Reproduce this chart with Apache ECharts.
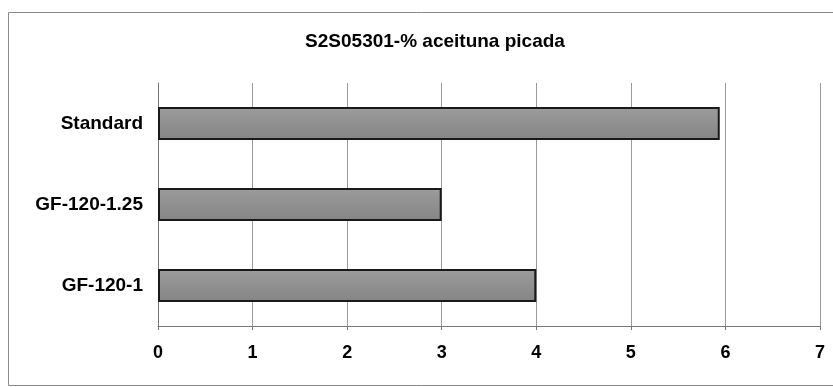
<!DOCTYPE html>
<html>
<head>
<meta charset="utf-8">
<script src="https://cdn.jsdelivr.net/npm/echarts@6/dist/echarts.min.js"></script>
<style>
html,body{margin:0;padding:0;background:#fff;}
#chart{width:833px;height:387px;}
</style>
</head>
<body>
<div id="chart"></div>
<script>
const titleText = 'S2S05301-% aceituna picada';
const categories = ['Standard', 'GF-120-1.25', 'GF-120-1'];
const values = [5.94, 3.0, 4.0];
const xTicks = [0, 1, 2, 3, 4, 5, 6, 7];

const chart = echarts.init(document.getElementById('chart'), null, {renderer: 'canvas'});
chart.setOption({
  backgroundColor: '#ffffff',
  animation: false,
  title: {
    text: titleText,
    left: 430,
    top: 27,
    textAlign: 'center',
    textStyle: {fontFamily: 'Liberation Sans, Arial, sans-serif', fontWeight: 'bold', fontSize: 19, color: '#000'}
  },
  graphic: [{
    type: 'rect',
    shape: {x: 8.5, y: 12.5, width: 900, height: 373},
    style: {fill: 'none', stroke: '#8a8a8a', lineWidth: 1},
    silent: true
  }],
  grid: {left: 158, right: 13, top: 83, bottom: 61},
  xAxis: {
    type: 'value',
    min: xTicks[0],
    max: xTicks[xTicks.length - 1],
    interval: 1,
    axisLine: {show: true, lineStyle: {color: '#777', width: 1}},
    axisTick: {show: true, length: 4, lineStyle: {color: '#777'}},
    splitLine: {show: true, lineStyle: {color: '#9a9a9a', width: 1}},
    axisLabel: {
      margin: 18,
      fontFamily: 'Liberation Sans, Arial, sans-serif',
      fontWeight: 'bold', fontSize: 18, color: '#000'
    }
  },
  yAxis: {
    type: 'category',
    data: categories,
    inverse: true,
    axisLine: {show: true, lineStyle: {color: '#777', width: 1}},
    axisTick: {show: false},
    axisLabel: {
      margin: 15,
      fontFamily: 'Liberation Sans, Arial, sans-serif',
      fontWeight: 'bold', fontSize: 19, color: '#000'
    }
  },
  series: [{
    type: 'bar',
    data: values,
    barWidth: 33,
    itemStyle: {
      color: new echarts.graphic.LinearGradient(0, 0, 0, 1, [
        {offset: 0, color: '#9c9c9c'},
        {offset: 0.5, color: '#909090'},
        {offset: 1, color: '#858585'}
      ]),
      borderColor: '#1a1a1a',
      borderWidth: 2
    }
  }]
});
</script>
</body>
</html>
